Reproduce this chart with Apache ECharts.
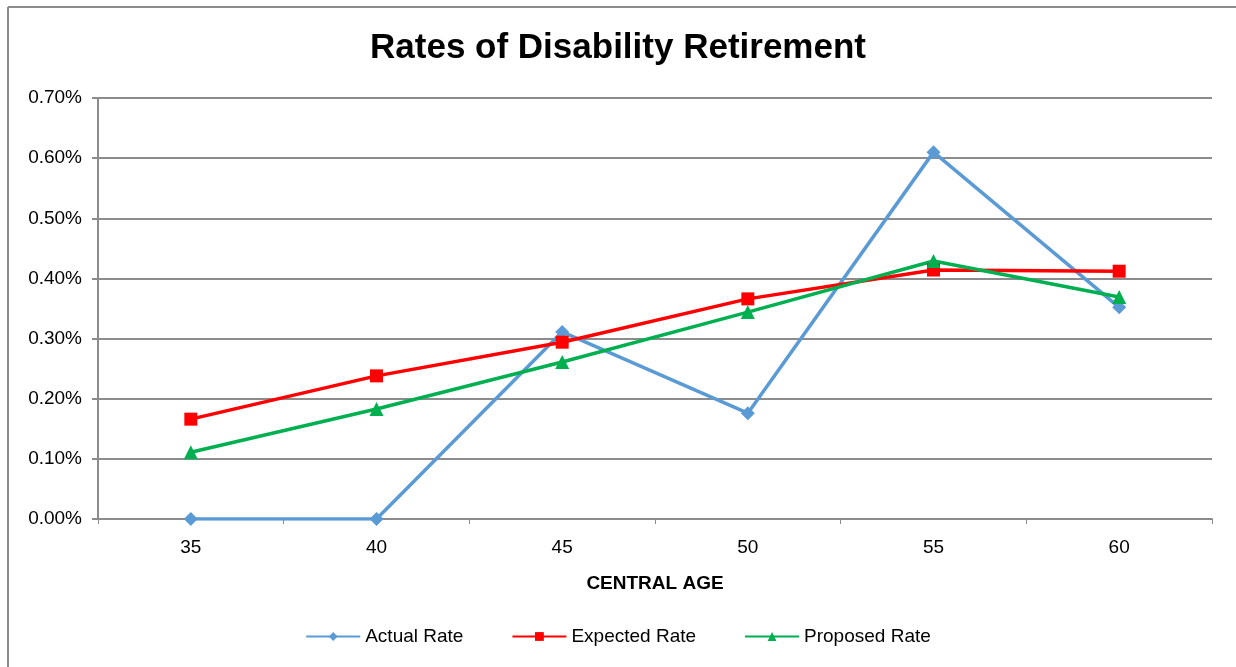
<!DOCTYPE html>
<html lang="en">
<head>
    <meta charset="UTF-8">
    <title>Rates of Disability Retirement</title>
    <script src="https://cdn.jsdelivr.net/npm/echarts@6/dist/echarts.min.js"></script>
    <style>
        html, body { margin: 0; padding: 0; background: #fff; }
        #main { width: 1236px; height: 667px; }
    </style>
</head>
<body>
<div id="main"></div>
<script>
    // central ages (x axis)
    var ages = ['35', '40', '45', '50', '55', '60'];
    // rates in percent
    var actualRate = [0.000, 0.000, 0.311, 0.176, 0.610, 0.352];
    var expectedRate = [0.166, 0.238, 0.294, 0.366, 0.414, 0.412];
    var proposedRate = [0.111, 0.183, 0.261, 0.344, 0.429, 0.369];

    var font = 'Arial, "Liberation Sans", sans-serif';
    var chart = echarts.init(document.getElementById('main'));

    var option = {
        backgroundColor: '#fff',
        animation: false,
        title: {
            text: 'Rates of Disability Retirement',
            left: 'center',
            top: 26,
            textStyle: {fontFamily: font, fontSize: 35, fontWeight: 'bold', color: '#000'}
        },
        graphic: [
            // chart border (top + left)
            {type: 'line', shape: {x1: 8, y1: 7, x2: 1236, y2: 7}, style: {stroke: '#8c8c8c', lineWidth: 2}},
            {type: 'line', shape: {x1: 8, y1: 7, x2: 8, y2: 667}, style: {stroke: '#8c8c8c', lineWidth: 2}}
        ],
        legend: {
            bottom: 16,
            left: 'center',
            itemWidth: 54,
            itemHeight: 11,
            itemGap: 48,
            textStyle: {fontFamily: font, fontSize: 19, color: '#000'},
            data: ['Actual Rate', 'Expected Rate', 'Proposed Rate']
        },
        grid: {left: 98, right: 24, top: 98, bottom: 148},
        xAxis: {
            type: 'category',
            data: ages,
            boundaryGap: true,
            name: 'CENTRAL AGE',
            nameLocation: 'middle',
            nameGap: 55,
            nameTextStyle: {fontFamily: font, fontSize: 19, fontWeight: 'bold', color: '#000'},
            axisLine: {lineStyle: {color: '#8c8c8c', width: 2}},
            axisTick: {show: true, length: 5, lineStyle: {color: '#8c8c8c'}},
            axisLabel: {fontFamily: font, fontSize: 19, color: '#000', margin: 19}
        },
        yAxis: {
            type: 'value',
            min: 0,
            max: 0.7,
            interval: 0.1,
            axisLine: {show: true, lineStyle: {color: '#8c8c8c', width: 2}},
            axisTick: {show: true, length: 6, lineStyle: {color: '#8c8c8c', width: 2}},
            splitLine: {lineStyle: {color: '#8c8c8c', width: 2}},
            axisLabel: {
                fontFamily: font, fontSize: 19, color: '#000', margin: 16,
                formatter: function (v) { return v.toFixed(2) + '%'; }
            }
        },
        series: [
            {
                name: 'Actual Rate',
                type: 'line',
                data: actualRate,
                symbol: 'diamond',
                symbolSize: 14,
                color: '#5b9bd5',
                lineStyle: {width: 3.5}
            },
            {
                name: 'Expected Rate',
                type: 'line',
                data: expectedRate,
                symbol: 'rect',
                symbolSize: 13,
                color: '#ff0000',
                lineStyle: {width: 3.5}
            },
            {
                name: 'Proposed Rate',
                type: 'line',
                data: proposedRate,
                symbol: 'triangle',
                symbolSize: 14,
                color: '#00b050',
                lineStyle: {width: 3.5}
            }
        ]
    };
    chart.setOption(option);
</script>
</body>
</html>
